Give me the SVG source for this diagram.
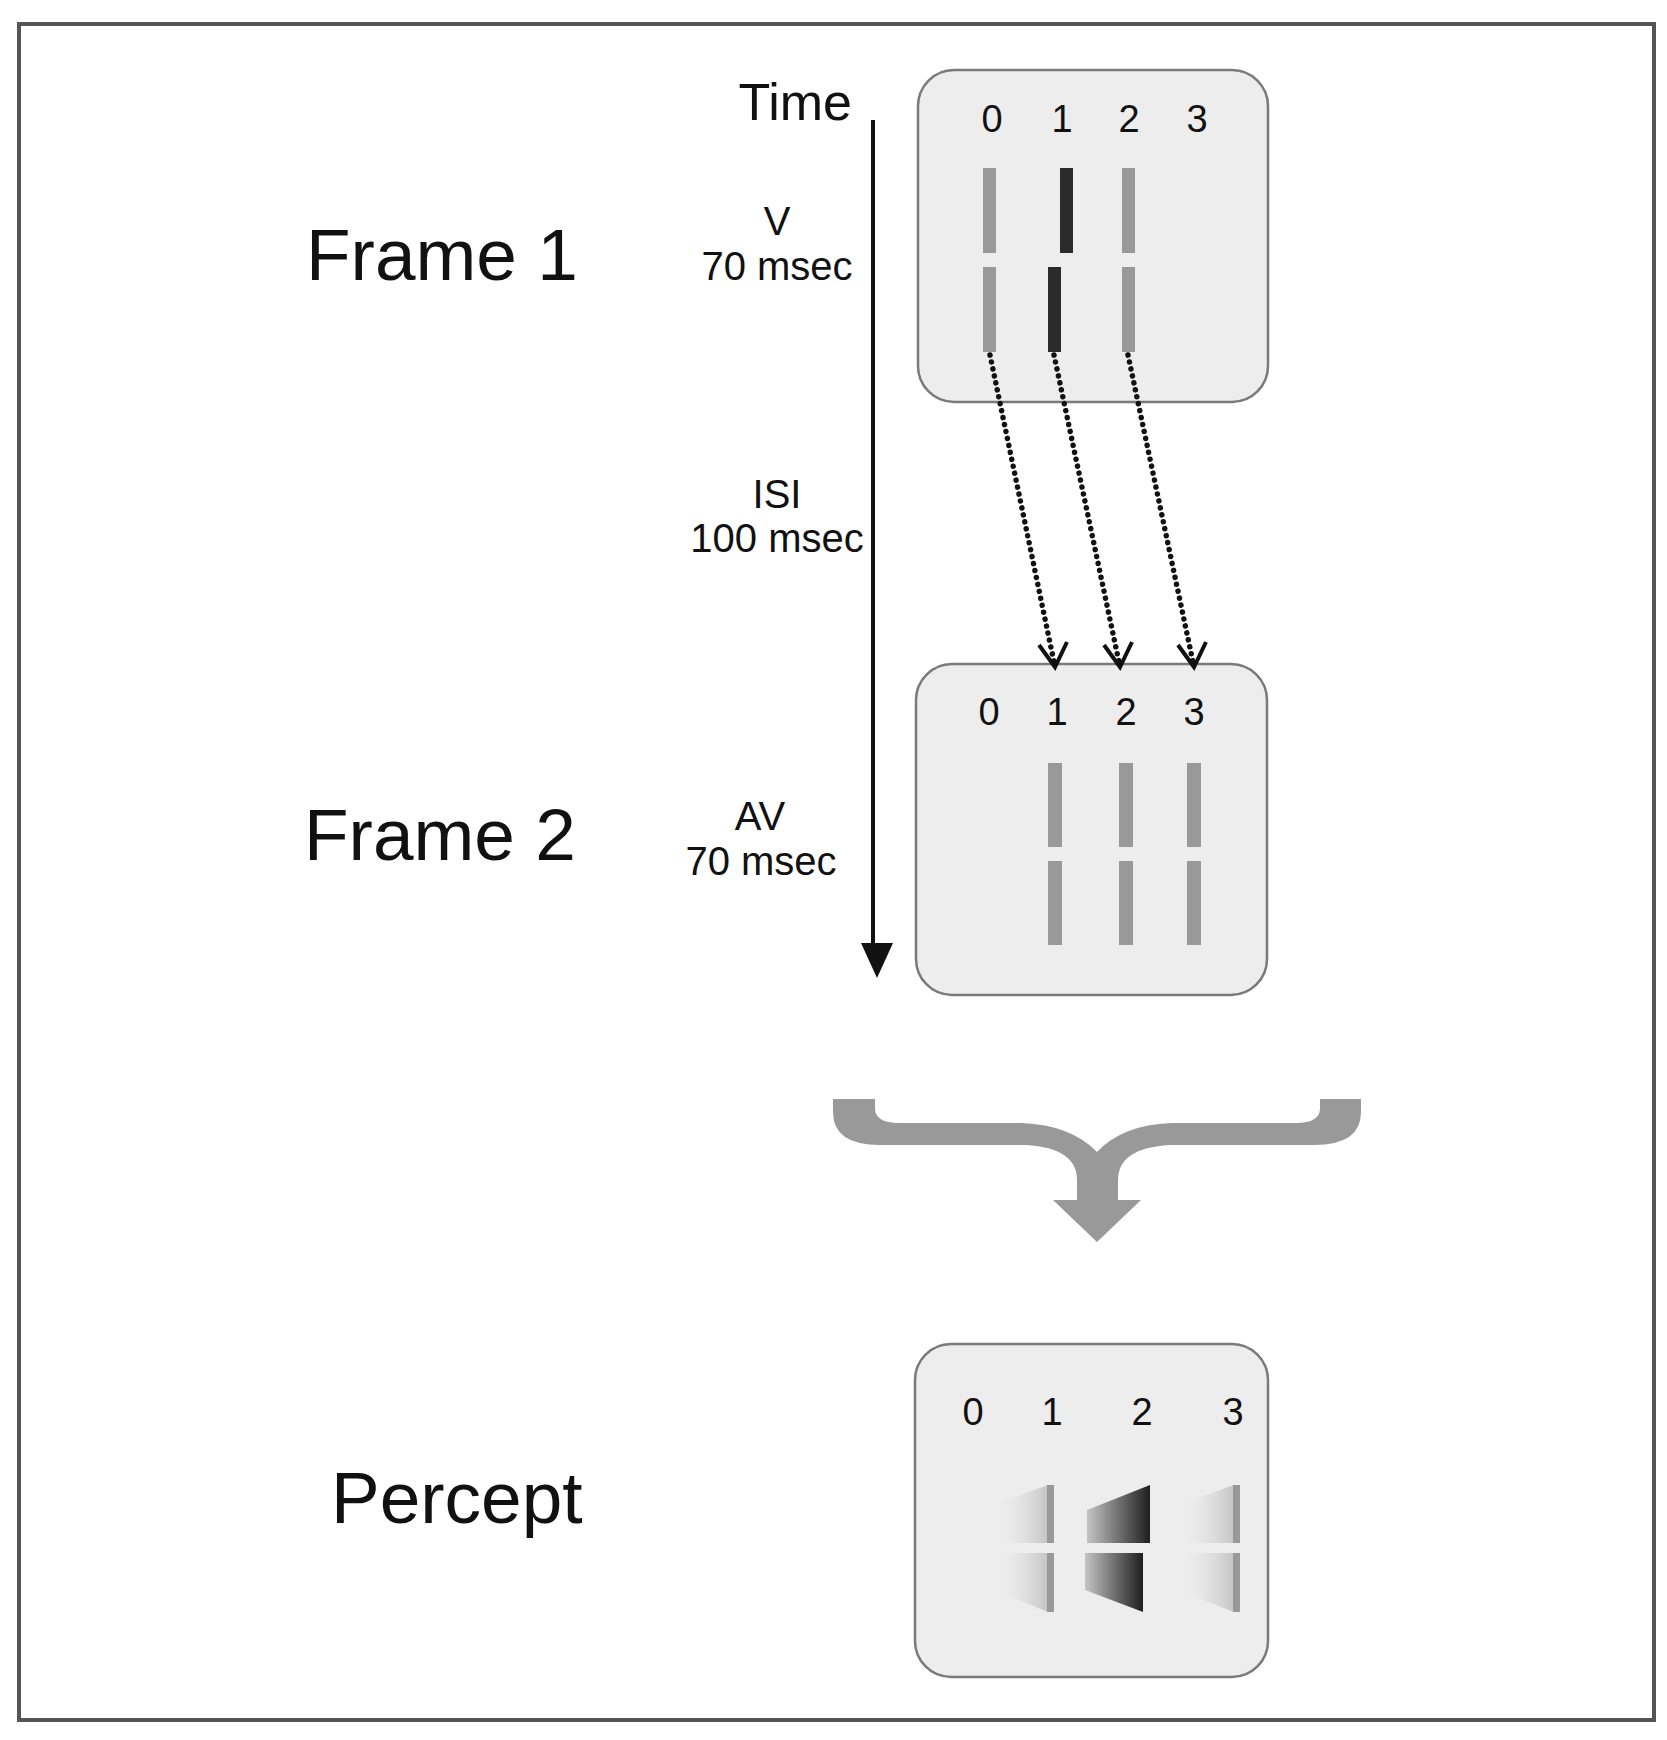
<svg xmlns="http://www.w3.org/2000/svg" width="1667" height="1740" viewBox="0 0 1667 1740">
<style>
text{font-family:"Liberation Sans",Arial,sans-serif;fill:#111}
.big{font-size:73px}
.lab{font-size:40px;text-anchor:middle}
.num{font-size:38px;text-anchor:middle}
.panel{fill:#ededed;stroke:#7a7a7a;stroke-width:2.5}
.gb{fill:#999}
.db{fill:#2b2b2b}
.dot{stroke:#111;stroke-width:5.5;stroke-dasharray:0.1 7;stroke-linecap:round;fill:none}
.head{stroke:#111;stroke-width:4;fill:none}
</style>
<defs>
<linearGradient id="lg" x1="0" y1="0" x2="1" y2="0">
<stop offset="0" stop-color="#ededed" stop-opacity="0"/>
<stop offset="1" stop-color="#c4c4c4"/>
</linearGradient>
<linearGradient id="dg" x1="0" y1="0" x2="1" y2="0">
<stop offset="0" stop-color="#c4c4c4"/>
<stop offset="1" stop-color="#1e1e1e"/>
</linearGradient>
</defs>
<rect x="0" y="0" width="1667" height="1740" fill="#fff"/>
<rect x="19" y="24" width="1635" height="1696" fill="none" stroke="#555" stroke-width="4"/>

<g id="labels">
<text class="big" x="306" y="280">Frame 1</text>
<text class="big" x="304" y="860">Frame 2</text>
<text class="big" x="331" y="1523">Percept</text>
<text x="852" y="120" style="font-size:52px;text-anchor:end">Time</text>
<text class="lab" x="777" y="235">V</text>
<text class="lab" x="777" y="280">70 msec</text>
<text class="lab" x="777" y="508">ISI</text>
<text class="lab" x="777" y="552">100 msec</text>
<text class="lab" x="760" y="830">AV</text>
<text class="lab" x="761" y="875">70 msec</text>
</g>

<g id="frame1">
<rect class="panel" x="918" y="70" width="350" height="332" rx="36"/>
<text class="num" x="992" y="132">0</text>
<text class="num" x="1062" y="132">1</text>
<text class="num" x="1129" y="132">2</text>
<text class="num" x="1197" y="132">3</text>
<rect class="gb" x="983" y="168" width="13" height="85"/>
<rect class="gb" x="983" y="267" width="13" height="85"/>
<rect class="db" x="1060" y="168" width="13" height="85"/>
<rect class="db" x="1048" y="267" width="13" height="85"/>
<rect class="gb" x="1122" y="168" width="13" height="85"/>
<rect class="gb" x="1122" y="267" width="13" height="85"/>
</g>

<g id="frame2">
<rect class="panel" x="916" y="664" width="351" height="331" rx="36"/>
<text class="num" x="989" y="725">0</text>
<text class="num" x="1057" y="725">1</text>
<text class="num" x="1126" y="725">2</text>
<text class="num" x="1194" y="725">3</text>
<rect class="gb" x="1048" y="763" width="14" height="84"/>
<rect class="gb" x="1048" y="861" width="14" height="84"/>
<rect class="gb" x="1119" y="763" width="14" height="84"/>
<rect class="gb" x="1119" y="861" width="14" height="84"/>
<rect class="gb" x="1187" y="763" width="14" height="84"/>
<rect class="gb" x="1187" y="861" width="14" height="84"/>
</g>

<g id="percept">
<rect class="panel" x="915" y="1344" width="353" height="333" rx="36"/>
<text class="num" x="973" y="1425">0</text>
<text class="num" x="1052" y="1425">1</text>
<text class="num" x="1142" y="1425">2</text>
<text class="num" x="1233" y="1425">3</text>
<polygon points="994,1505 1048,1485 1048,1543 994,1543" fill="url(#lg)"/>
<polygon points="994,1553 1048,1553 1048,1612 994,1590" fill="url(#lg)"/>
<rect class="gb" x="1047" y="1485" width="7" height="58"/>
<rect class="gb" x="1047" y="1553" width="7" height="59"/>
<polygon points="1087,1510 1150,1485 1150,1543 1087,1543" fill="url(#dg)"/>
<polygon points="1085,1553 1143,1553 1143,1612 1085,1590" fill="url(#dg)"/>
<polygon points="1178,1505 1234,1485 1234,1543 1178,1543" fill="url(#lg)"/>
<polygon points="1178,1553 1234,1553 1234,1612 1178,1590" fill="url(#lg)"/>
<rect class="gb" x="1233" y="1485" width="7" height="58"/>
<rect class="gb" x="1233" y="1553" width="7" height="59"/>
</g>

<g id="connectors">
<line x1="873" y1="120" x2="873" y2="945" stroke="#111" stroke-width="4"/>
<polygon points="861,943 893,943 877,978" fill="#111"/>
<line class="dot" x1="990" y1="355" x2="1054" y2="662"/>
<line class="dot" x1="1054" y1="355" x2="1119" y2="662"/>
<line class="dot" x1="1128" y1="355" x2="1193" y2="662"/>
<polyline class="head" points="1039,645 1055,667 1067,642"/>
<polyline class="head" points="1104,645 1120,667 1132,642"/>
<polyline class="head" points="1178,645 1194,667 1206,642"/>
<path fill="#999" d="M833 1099 L875 1099 L875 1108 Q875 1123 899 1123 L1022 1123 Q1071 1125 1097 1152 Q1122 1125 1171 1123 L1296 1123 Q1320 1123 1320 1108 L1320 1099 L1361 1099 L1361 1112 Q1361 1145 1314 1145 L1170 1145 Q1118 1148 1118 1180 L1118 1200 L1141 1200 L1097 1242 L1053 1200 L1077 1200 L1077 1180 Q1077 1148 1026 1145 L880 1145 Q833 1145 833 1112 Z"/>
</g>
</svg>
